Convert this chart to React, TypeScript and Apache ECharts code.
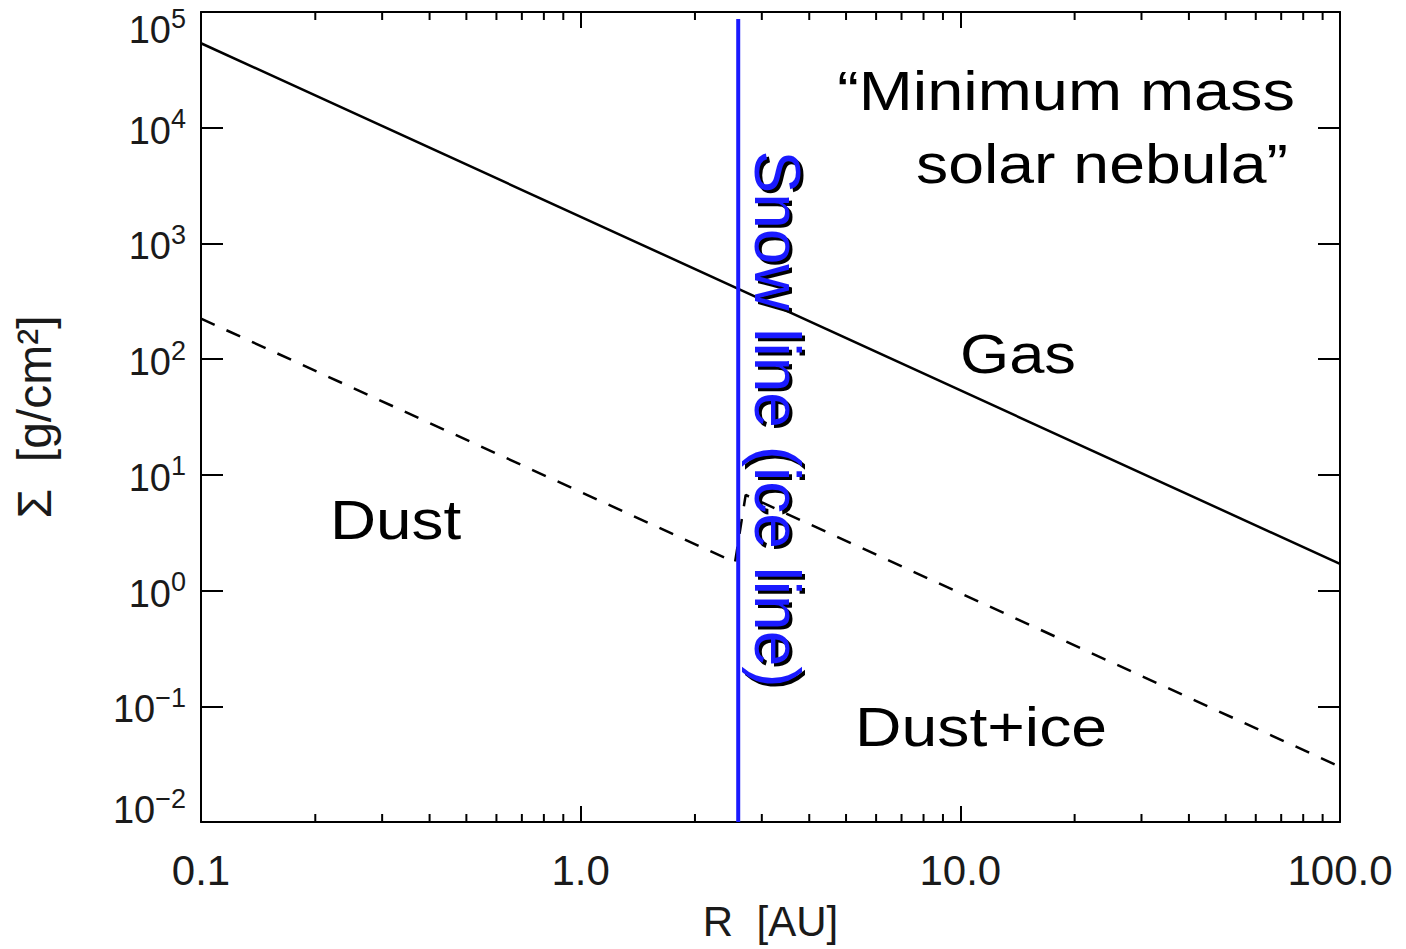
import React, { useEffect, useRef } from "react";
import * as echarts from "echarts";

// ---- data ----
const GAS_R = [0.1, 100];
const GAS_SIGMA = [53700, 1.7];
const DUST_R = [0.1, 2.55, 2.72, 100];
const DUST_SIGMA = [224, 1.75, 6.7, 0.03];
const SNOW_R = 2.6;
const SNOW_SIGMA = [0.01, 87000];
const X_MIN = 0.1;
const X_MAX = 100;
const Y_MIN = 0.01;
const Y_MAX = 100000;
const X_MINOR = [0.2, 0.3, 0.4, 0.5, 0.6, 0.7, 0.8, 0.9, 2, 3, 4, 5, 6, 7, 8, 9, 20, 30, 40, 50, 60, 70, 80, 90];

const FONT = "'Liberation Sans', Arial, sans-serif";
const AX = "#000";
const TXT = "#1a1a1a";
const BLUE = "#1a1aff";

export default function App() {
  const ref = useRef<HTMLDivElement>(null);
  useEffect(() => {
    if (!ref.current) return;
    const chart = echarts.init(ref.current, undefined, { renderer: "svg" });

    const yLabel = (v: number) => {
      const e = Math.round(Math.log10(v));
      const exp = e < 0 ? "\u2212" + Math.abs(e) : String(e);
      const main = `{b|10}{s|${exp}}`;
      if (e === 5) return `{e| }\n${main}`;
      if (e === -2) return `${main}\n{e| }`;
      return main;
    };

    const axisCommon = {
      type: "log" as const,
      logBase: 10,
      splitLine: { show: false },
      minorTick: { show: false },
      axisLine: { show: true, lineStyle: { color: AX, width: 2 } },
    };

    const option: any = {
      animation: false,
      backgroundColor: "#fff",
      grid: { left: 201, top: 12, width: 1139, height: 810, containLabel: false, outerBoundsMode: "none" },
      xAxis: [
        {
          ...axisCommon,
          min: X_MIN,
          max: X_MAX,
          position: "bottom",
          axisTick: { show: true, inside: true, length: 16, lineStyle: { color: AX, width: 2 } },
          axisLabel: {
            margin: 27,
            fontSize: 42,
            fontFamily: FONT,
            color: TXT,
            formatter: (v: number) => v.toFixed(1),
          },
          name: "R  [AU]",
          nameLocation: "middle",
          nameGap: 78,
          nameTextStyle: { fontSize: 42, fontFamily: FONT, color: TXT },
        },
        {
          ...axisCommon,
          min: X_MIN,
          max: X_MAX,
          position: "top",
          axisTick: { show: true, inside: true, length: 16, lineStyle: { color: AX, width: 2 } },
          axisLabel: { show: false },
        },
      ],
      yAxis: [
        {
          ...axisCommon,
          min: Y_MIN,
          max: Y_MAX,
          position: "left",
          axisTick: { show: true, inside: true, length: 22, lineStyle: { color: AX, width: 2 } },
          axisLabel: {
            margin: 15,
            color: TXT,
            fontFamily: FONT,
            formatter: yLabel,
            rich: {
              b: { fontSize: 38, lineHeight: 44, fontFamily: FONT, color: TXT, verticalAlign: "bottom" },
              s: { fontSize: 27, lineHeight: 28, fontFamily: FONT, color: TXT, verticalAlign: "top" },
              e: { fontSize: 10, lineHeight: 30 },
            },
          },
          name: "\u03a3  [g/cm\u00b2]",
          nameLocation: "middle",
          nameGap: 143,
          nameTextStyle: { fontSize: 48, fontFamily: FONT, color: TXT },
        },
        {
          ...axisCommon,
          min: Y_MIN,
          max: Y_MAX,
          position: "right",
          axisTick: { show: true, inside: true, length: 22, lineStyle: { color: AX, width: 2 } },
          axisLabel: { show: false },
        },
      ],
      series: [
        {
          name: "Gas",
          type: "line",
          xAxisIndex: 0,
          yAxisIndex: 0,
          data: GAS_R.map((r, i) => [r, GAS_SIGMA[i]]),
          symbol: "none",
          lineStyle: { color: "#000", width: 2.5 },
          silent: true,
        },
        {
          name: "Dust",
          type: "line",
          xAxisIndex: 0,
          yAxisIndex: 0,
          data: DUST_R.map((r, i) => [r, DUST_SIGMA[i]]),
          symbol: "none",
          lineStyle: { color: "#000", width: 2.5, type: [15, 13] },
          silent: true,
        },
        {
          name: "Snow line",
          type: "line",
          xAxisIndex: 0,
          yAxisIndex: 0,
          data: SNOW_SIGMA.map((s) => [SNOW_R, s]),
          symbol: "none",
          lineStyle: { color: BLUE, width: 4 },
          silent: true,
          z: 5,
        },
        {
          name: "minor ticks",
          type: "custom",
          xAxisIndex: 0,
          yAxisIndex: 0,
          silent: true,
          clip: false,
          data: X_MINOR.map((v) => [v, Y_MIN]),
          renderItem: (params: any, api: any) => {
            const v = api.value(0);
            const pb = api.coord([v, Y_MIN]);
            const pt = api.coord([v, Y_MAX]);
            const st = { stroke: AX, lineWidth: 2 };
            return {
              type: "group",
              children: [
                { type: "line", shape: { x1: pb[0], y1: pb[1], x2: pb[0], y2: pb[1] - 8 }, style: st },
                { type: "line", shape: { x1: pt[0], y1: pt[1], x2: pt[0], y2: pt[1] + 8 }, style: st },
              ],
            };
          },
        },
      ],
      graphic: [
        {
          type: "text",
          x: 1295,
          y: 91,
          scaleX: 1.18,
          style: { text: "\u201cMinimum mass", font: `55px ${FONT}`, fill: "#000", align: "right", verticalAlign: "middle" },
        },
        {
          type: "text",
          x: 1288,
          y: 164,
          scaleX: 1.17,
          style: { text: "solar nebula\u201d", font: `55px ${FONT}`, fill: "#000", align: "right", verticalAlign: "middle" },
        },
        {
          type: "text",
          x: 960,
          y: 354,
          scaleX: 1.15,
          style: { text: "Gas", font: `55px ${FONT}`, fill: "#000", align: "left", verticalAlign: "middle" },
        },
        {
          type: "text",
          x: 330,
          y: 520,
          scaleX: 1.16,
          style: { text: "Dust", font: `55px ${FONT}`, fill: "#000", align: "left", verticalAlign: "middle" },
        },
        {
          type: "text",
          x: 855,
          y: 727,
          scaleX: 1.17,
          style: { text: "Dust+ice", font: `55px ${FONT}`, fill: "#000", align: "left", verticalAlign: "middle" },
        },
        {
          type: "text",
          x: 780,
          y: 422,
          rotation: -Math.PI / 2,
          z: 10,
          style: { text: "Snow line (ice line)", font: `64px ${FONT}`, fill: "#000", align: "center", verticalAlign: "middle" },
        },
        {
          type: "text",
          x: 777,
          y: 419,
          rotation: -Math.PI / 2,
          z: 11,
          style: { text: "Snow line (ice line)", font: `64px ${FONT}`, fill: BLUE, align: "center", verticalAlign: "middle" },
        },
      ],
    };
    chart.setOption(option);
    return () => chart.dispose();
  }, []);
  return <div ref={ref} style={{ position: "fixed", left: 0, top: 0, width: 1406, height: 949 }} />;
}
